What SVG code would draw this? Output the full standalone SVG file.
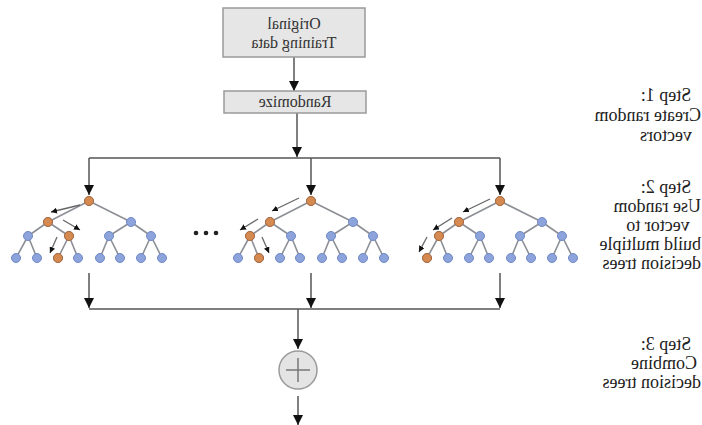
<svg xmlns="http://www.w3.org/2000/svg" width="702" height="425" viewBox="0 0 702 425">
<defs>
<style>
.box{fill:#e6e6e6;stroke:#9a9a9a;stroke-width:1.5}
.bt{font-family:"Liberation Serif",serif;font-size:16px;fill:#333;text-anchor:middle}
.st{font-family:"Liberation Serif",serif;font-size:18px;fill:#222;text-anchor:middle}
.sl{font-family:"Liberation Serif",serif;font-size:18px;fill:#222;text-anchor:start}
.ln{stroke:#555;stroke-width:1.5;fill:none}
.e{stroke:#8c8f96;stroke-width:1.6;fill:none}
.ta{stroke:#666;stroke-width:1.3;fill:none}
.b{fill:#8da3dc;stroke:#7088c4;stroke-width:1}
.o{fill:#d48a50;stroke:#b06a35;stroke-width:1}
</style>
<marker id="ah" viewBox="0 0 10 10" refX="10" refY="5" markerWidth="10" markerHeight="10" markerUnits="userSpaceOnUse" orient="auto"><path d="M0,0L10,5L0,10z" fill="#111"/></marker>
<marker id="sa" viewBox="0 0 10 10" refX="10" refY="5" markerWidth="6" markerHeight="6" markerUnits="userSpaceOnUse" orient="auto"><path d="M0,0L10,5L0,10z" fill="#111"/></marker>
<g id="tree">
<path class="e" d="M0,0L-41,21M0,0L42,21M-41,21L-61,35M-41,21L-20,35M42,21L20,35M42,21L62,35M-61,35L-73,57M-61,35L-52,57M-20,35L-31,57M-20,35L-11,57M20,35L11,57M20,35L31,57M62,35L52,57M62,35L73,57"/>
<g class="b">
<circle cx="0" cy="0" r="4.5"/><circle cx="-41" cy="21" r="4.5"/><circle cx="42" cy="21" r="4.5"/>
<circle cx="-61" cy="35" r="4.5"/><circle cx="-20" cy="35" r="4.5"/><circle cx="20" cy="35" r="4.5"/><circle cx="62" cy="35" r="4.5"/>
<circle cx="-73" cy="57" r="4.5"/><circle cx="-52" cy="57" r="4.5"/><circle cx="-31" cy="57" r="4.5"/><circle cx="-11" cy="57" r="4.5"/>
<circle cx="11" cy="57" r="4.5"/><circle cx="31" cy="57" r="4.5"/><circle cx="52" cy="57" r="4.5"/><circle cx="73" cy="57" r="4.5"/>
</g>
</g>
</defs>
<rect width="702" height="425" fill="#fff"/>

<g id="connectors">
<line class="ln" x1="294" y1="57" x2="294" y2="91" marker-end="url(#ah)"/>
<line class="ln" x1="297" y1="113" x2="297" y2="157" marker-end="url(#ah)"/>
<line class="ln" x1="89" y1="158" x2="500" y2="158"/>
<line class="ln" x1="89" y1="158" x2="89" y2="195" marker-end="url(#ah)"/>
<line class="ln" x1="311" y1="158" x2="311" y2="195" marker-end="url(#ah)"/>
<line class="ln" x1="500" y1="158" x2="500" y2="195" marker-end="url(#ah)"/>
<line class="ln" x1="89" y1="273" x2="89" y2="308" marker-end="url(#ah)"/>
<line class="ln" x1="311" y1="273" x2="311" y2="308" marker-end="url(#ah)"/>
<line class="ln" x1="500" y1="273" x2="500" y2="308" marker-end="url(#ah)"/>
<line class="ln" x1="89" y1="309" x2="500" y2="309"/>
<line class="ln" x1="298" y1="309" x2="298" y2="349" marker-end="url(#ah)"/>
<line class="ln" x1="298" y1="396" x2="298" y2="425" marker-end="url(#ah)"/>
</g>

<g id="box-original">
<rect class="box" x="223" y="8" width="142" height="49"/>
<g transform="scale(-1,1)">
<text class="bt" x="-294" y="29">Original</text>
<text class="bt" x="-294" y="48">Training data</text>
</g>
</g>

<g id="box-randomize">
<rect class="box" x="224" y="91" width="142" height="22"/>
<g transform="scale(-1,1)"><text class="bt" x="-295" y="107">Randomize</text></g>
</g>

<g id="tree1">
<use href="#tree" x="89" y="201"/>
<g class="o"><circle cx="89" cy="201" r="4.5"/><circle cx="48" cy="222" r="4.5"/><circle cx="69" cy="236" r="4.5"/><circle cx="58" cy="258" r="4.5"/></g>
<path class="ta" d="M80,205L51,212" marker-end="url(#sa)"/>
<path class="ta" d="M63,220L80,230" marker-end="url(#sa)"/>
<path class="ta" d="M57,237L50,253" marker-end="url(#sa)"/>
</g>

<g id="dots" fill="#222">
<circle cx="196" cy="233" r="2.3"/><circle cx="206" cy="233" r="2.3"/><circle cx="216" cy="233" r="2.3"/>
</g>

<g id="tree2">
<use href="#tree" x="311" y="201"/>
<g class="o"><circle cx="311" cy="201" r="4.5"/><circle cx="270" cy="222" r="4.5"/><circle cx="250" cy="236" r="4.5"/><circle cx="259" cy="258" r="4.5"/></g>
<path class="ta" d="M299,198L272,211" marker-end="url(#sa)"/>
<path class="ta" d="M258,219L240,230" marker-end="url(#sa)"/>
<path class="ta" d="M262,237L269,253" marker-end="url(#sa)"/>
</g>

<g id="tree3">
<use href="#tree" x="500" y="201"/>
<g class="o"><circle cx="500" cy="201" r="4.5"/><circle cx="459" cy="222" r="4.5"/><circle cx="439" cy="236" r="4.5"/><circle cx="427" cy="258" r="4.5"/></g>
<path class="ta" d="M490,199L463,212" marker-end="url(#sa)"/>
<path class="ta" d="M452,218L433,230" marker-end="url(#sa)"/>
<path class="ta" d="M427,237L419,252" marker-end="url(#sa)"/>
</g>

<g id="combine">
<circle cx="298" cy="370" r="19" fill="#e4e4e4" stroke="#9a9a9a" stroke-width="1.5"/>
<path d="M286,370H310M298,358V382" stroke="#777" stroke-width="1.5"/>
</g>

<g id="step-labels" transform="scale(-1,1)">
<text class="st" x="-666" y="101">Step 1:</text>
<text class="sl" x="-701" y="121">Create random</text>
<text class="st" x="-666" y="141">vectors</text>
<text class="st" x="-666" y="193">Step 2:</text>
<text class="sl" x="-701" y="212">Use random</text>
<text class="st" x="-658" y="231">vector to</text>
<text class="sl" x="-701" y="250">build multiple</text>
<text class="sl" x="-701" y="269">decision trees</text>
<text class="st" x="-666" y="350">Step 3:</text>
<text class="st" x="-664" y="369">Combine</text>
<text class="sl" x="-701" y="388">decision trees</text>
</g>
</svg>
